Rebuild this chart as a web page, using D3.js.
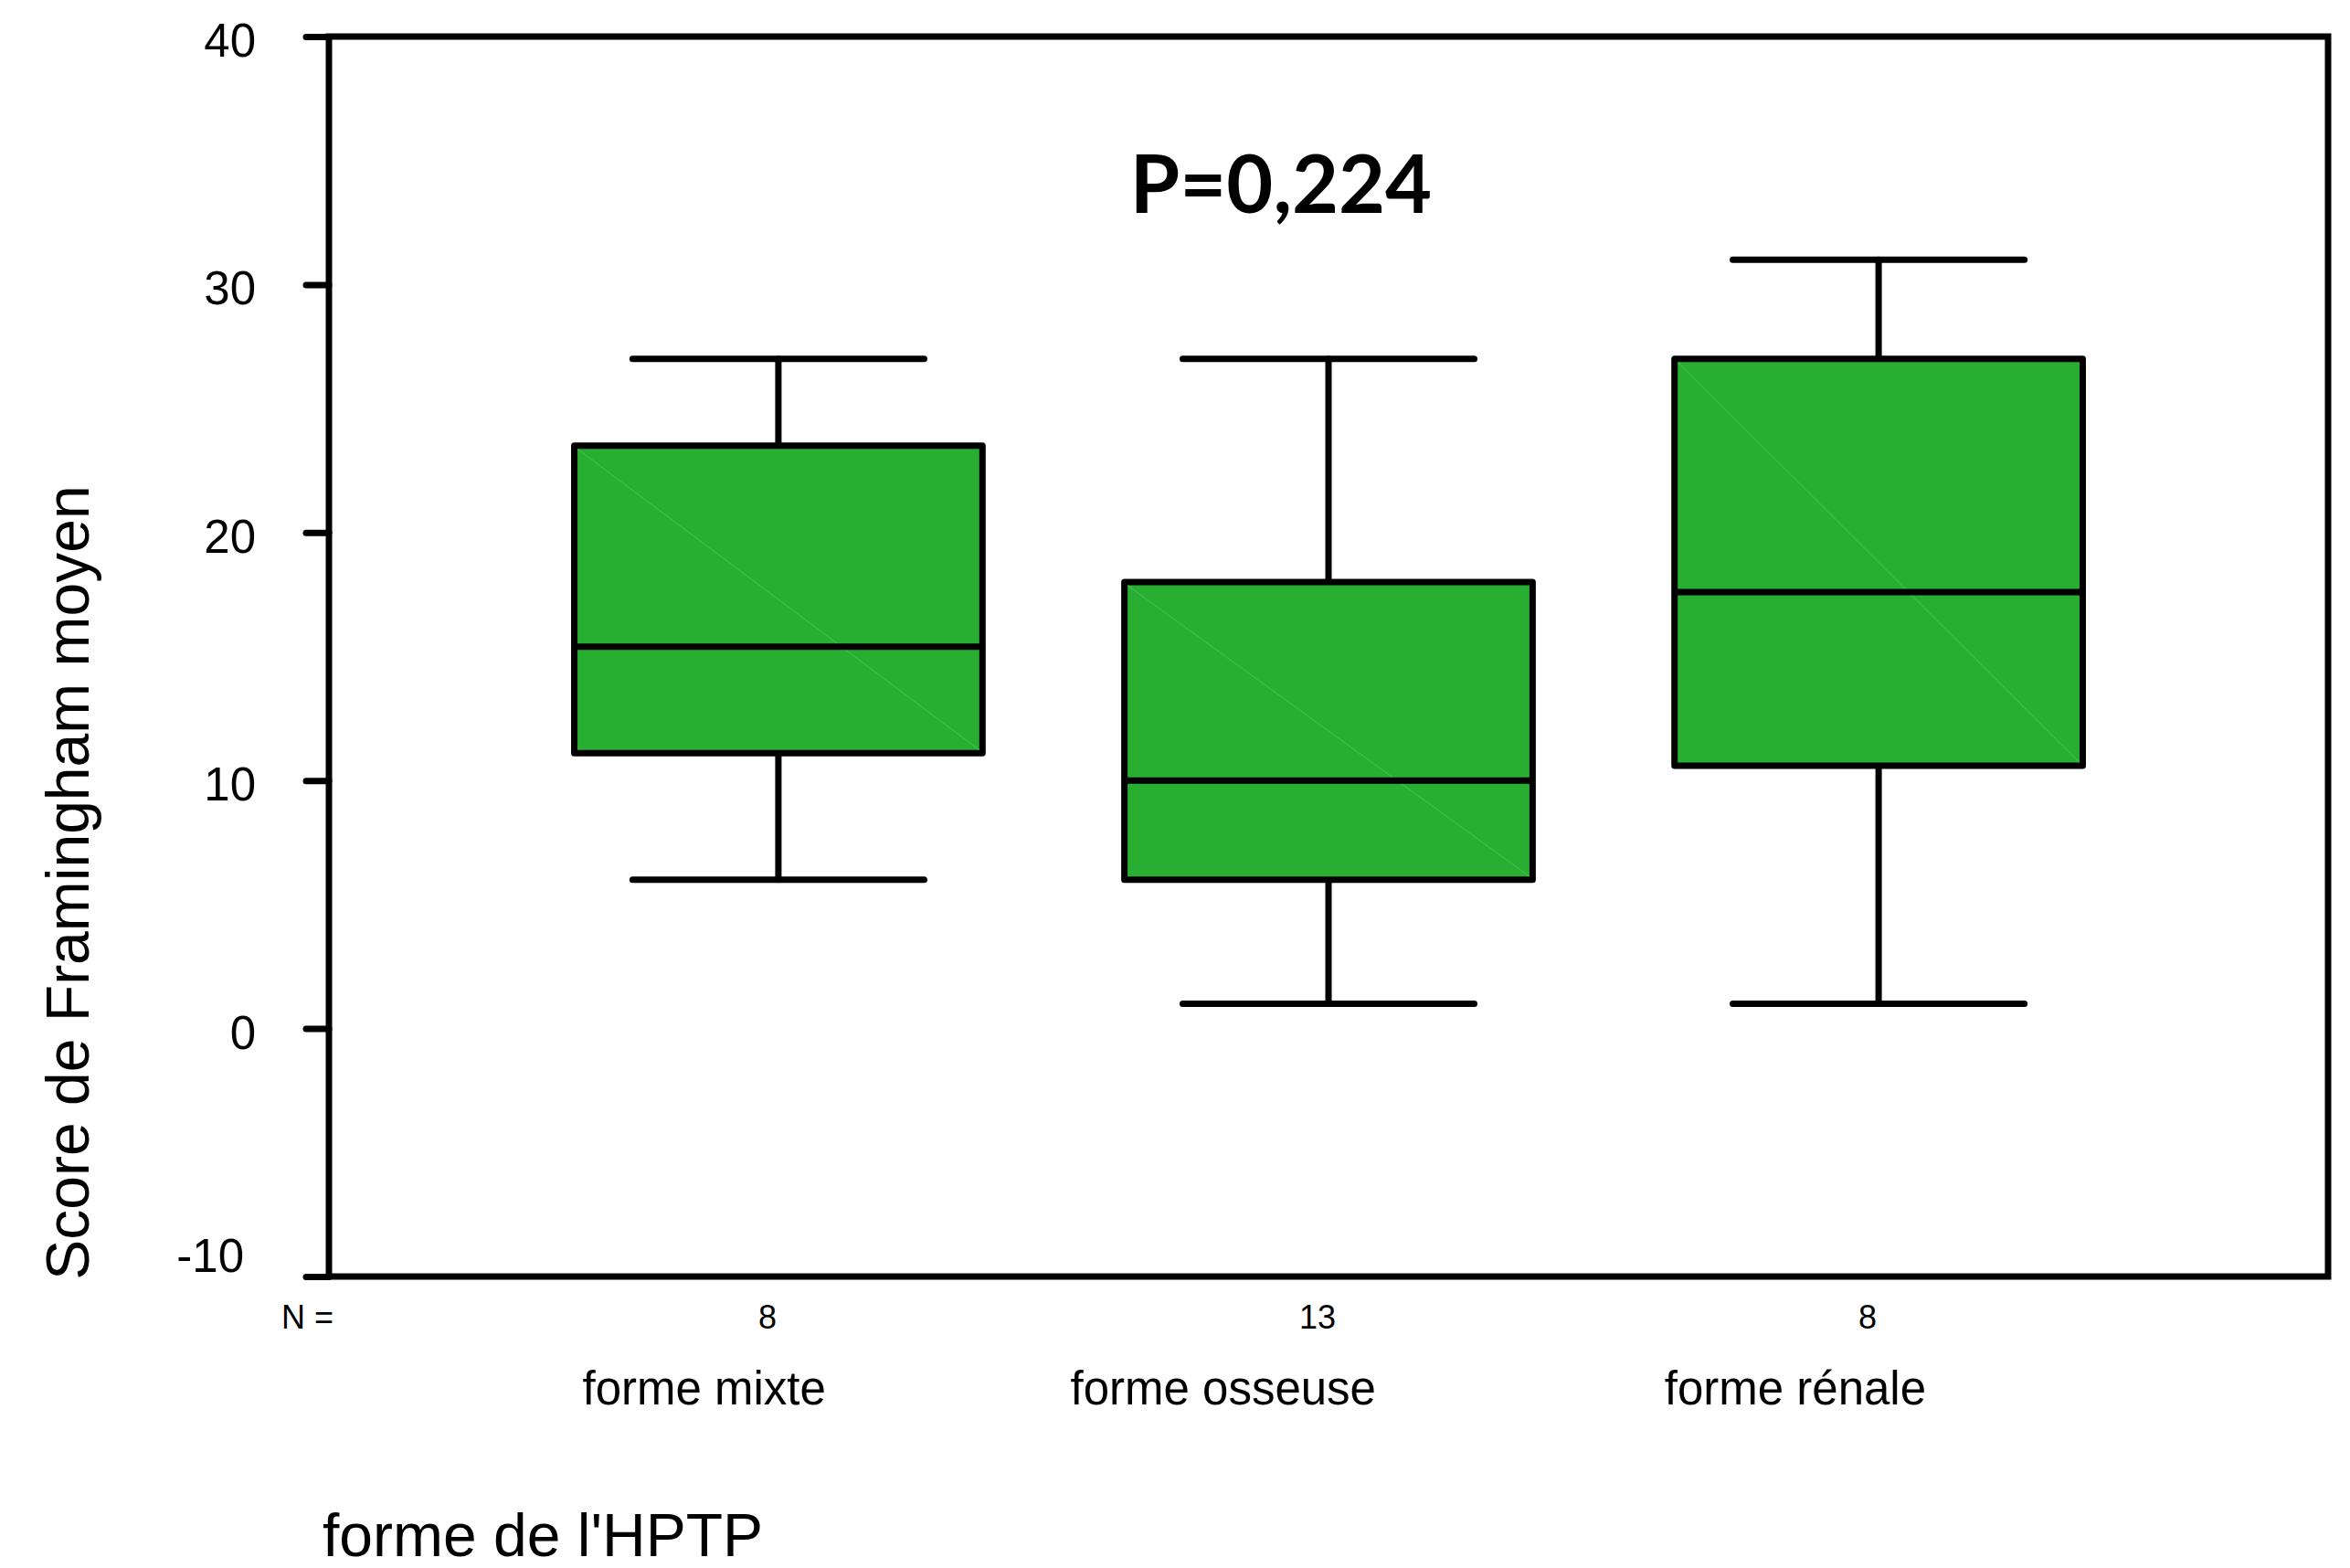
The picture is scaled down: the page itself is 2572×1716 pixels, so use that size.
<html>
<head>
	<meta charset="utf-8">
	<title>Score de Framingham</title>
	<script src="https://d3js.org/d3.v7.min.js"></script>
	<style>
		body { margin: 0; background: #fff; }
		text { font-family: "Liberation Sans", Arial, sans-serif; fill: #000; }
	</style>
</head>
<body>
	<script type="text/javascript">
		// data
		var categories = ["forme mixte", "forme osseuse", "forme rénale"]
		var counts = [8, 13, 8]
		var whiskerLow = [6, 1, 1]
		var q1 = [11.1, 6, 10.6]
		var medians = [15.4, 10, 17.6]
		var q3 = [23.5, 18, 27]
		var whiskerHigh = [27, 27, 31]
		var yTicks = [-10, 0, 10, 20, 30, 40]
		var pLabel = "P=0,224"

		var width = 2572
		var height = 1716
		var plotL = 360, plotR = 2548, plotT = 40, plotB = 1397

		var svg = d3.select("body").append("svg")
			.attr("width", width)
			.attr("height", height)

		var x = d3.scalePoint().domain(categories).range([plotL, plotR]).padding(0.817).align(0.5)
		var y = d3.scaleLinear().domain([-10, 40]).range([plotB, plotT])

		var boxW = x.step() * 0.742
		var capW = x.step() * 0.53

		var rows = categories.map(function(c, i) {
			return {cat: c, n: counts[i], lo: whiskerLow[i], q1: q1[i], med: medians[i], q3: q3[i], hi: whiskerHigh[i]}
		})

		// y axis (plain hyphen for negatives, like the original)
		var yAxis = d3.axisLeft(y).tickValues(yTicks).tickSize(25).tickPadding(55).tickFormat(d => String(d))
		var ga = svg.append("g").attr("transform", "translate(" + plotL + ",0)").call(yAxis)
		ga.select(".domain").remove()
		ga.selectAll(".tick line").attr("stroke", "#000").attr("stroke-width", 7).attr("stroke-linecap", "round")
		ga.selectAll(".tick text").attr("font-size", 51).attr("dy", "0.42em")
		ga.selectAll(".tick text").filter(function(d) { return d === -10 }).attr("dx", -13).attr("dy", "-0.1em")

		// frame
		svg.append("rect")
			.attr("x", plotL).attr("y", plotT)
			.attr("width", plotR - plotL).attr("height", plotB - plotT)
			.attr("fill", "none").attr("stroke", "#000").attr("stroke-width", 7)

		var g = svg.append("g")
			.attr("stroke", "#000").attr("stroke-width", 7).attr("stroke-linecap", "round")

		var box = g.selectAll(".box").data(rows).enter().append("g").attr("class", "box")

		// whiskers
		box.append("line")
			.attr("x1", d => x(d.cat)).attr("x2", d => x(d.cat))
			.attr("y1", d => y(d.hi)).attr("y2", d => y(d.q3))
		box.append("line")
			.attr("x1", d => x(d.cat)).attr("x2", d => x(d.cat))
			.attr("y1", d => y(d.q1)).attr("y2", d => y(d.lo))
		box.append("line")
			.attr("x1", d => x(d.cat) - capW / 2).attr("x2", d => x(d.cat) + capW / 2)
			.attr("y1", d => y(d.hi)).attr("y2", d => y(d.hi))
		box.append("line")
			.attr("x1", d => x(d.cat) - capW / 2).attr("x2", d => x(d.cat) + capW / 2)
			.attr("y1", d => y(d.lo)).attr("y2", d => y(d.lo))

		// boxes
		box.append("rect")
			.attr("x", d => x(d.cat) - boxW / 2).attr("width", boxW)
			.attr("y", d => y(d.q3)).attr("height", d => y(d.q1) - y(d.q3))
			.attr("fill", "#28af31").attr("stroke-linejoin", "round")
		// faint diagonal seen in the fill
		box.append("line")
			.attr("x1", d => x(d.cat) - boxW / 2 + 4).attr("y1", d => y(d.q3) + 4)
			.attr("x2", d => x(d.cat) + boxW / 2 - 4).attr("y2", d => y(d.q1) - 4)
			.attr("stroke", "#3fbd47").attr("stroke-width", 1.2)
		box.append("line")
			.attr("x1", d => x(d.cat) - boxW / 2).attr("x2", d => x(d.cat) + boxW / 2)
			.attr("y1", d => y(d.med)).attr("y2", d => y(d.med))
			.attr("stroke-linecap", "butt")

		// N row
		svg.append("text").attr("x", 365).attr("y", 1454).attr("font-size", 36)
			.attr("text-anchor", "end").text("N =")
		svg.selectAll(".n").data(rows).enter().append("text").attr("class", "n")
			.attr("x", d => x(d.cat) - 12).attr("y", 1454)
			.attr("font-size", 36).attr("text-anchor", "middle")
			.text(d => d.n)

		// category labels
		svg.selectAll(".cat").data(rows).enter().append("text").attr("class", "cat")
			.attr("x", d => x(d.cat) + 52).attr("y", 1537)
			.attr("font-size", 51).attr("text-anchor", "end")
			.text(d => d.cat)

		// axis titles
		svg.append("text").attr("x", 353).attr("y", 1703).attr("font-size", 66)
			.text("forme de l'HPTP")
		svg.append("text").attr("transform", "translate(97,966) rotate(-90)")
			.attr("font-size", 66).attr("text-anchor", "middle")
			.text("Score de Framingham moyen")

		// p value
		svg.append("text").attr("x", 1402).attr("y", 233)
			.attr("font-size", 88).attr("font-weight", "bold").attr("text-anchor", "middle")
			.style("font-family", "Lato, 'Open Sans', sans-serif")
			.text(pLabel)
	</script>
</body>
</html>
